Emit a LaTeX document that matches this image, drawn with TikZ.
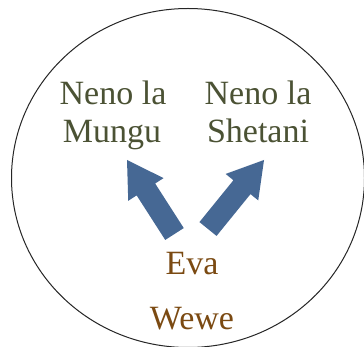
\documentclass[tikz,border=0pt]{standalone}
\usepackage{fontspec}
\setmainfont{Liberation Serif}
\usetikzlibrary{calc}
\definecolor{labelgreen}{HTML}{4B5234}
\definecolor{labelbrown}{HTML}{7B4A12}
\definecolor{arrowblue}{HTML}{466894}
\tikzset{
  biglabel/.style={font=\fontsize{34}{40}\selectfont, inner sep=0pt, anchor=base},
  greenlabel/.style={biglabel, text=labelgreen},
  brownlabel/.style={biglabel, text=labelbrown},
  blockarrow/.style={fill=arrowblue, draw=none},
  outline/.style={draw=black!85, line width=1pt}
}
\newcommand{\myblockarrow}[2]{%
  \fill[blockarrow]
    ($(#1)!11pt!90:(#2)$) --
    ($($(#2)!35pt!(#1)$)!11pt!90:(#2)$) --
    ($($(#2)!35pt!(#1)$)!21pt!90:(#2)$) --
    (#2) --
    ($($(#2)!35pt!(#1)$)!21pt!-90:(#2)$) --
    ($($(#2)!35pt!(#1)$)!11pt!-90:(#2)$) --
    ($(#1)!11pt!-90:(#2)$) -- cycle;}
\begin{document}
\begin{tikzpicture}[x=1pt,y=-1pt]
  \useasboundingbox (0,0) rectangle (364,347);
  \clip (0,0) rectangle (364,347);
  \fill[white] (0,0) rectangle (364,347);
  \draw[outline] (188,178) ellipse [x radius=176.5, y radius=169.5];

  \node[greenlabel] (mungu1) at (113,105) {Neno la};
  \node[greenlabel] (mungu2) at (112,143) {Mungu};
  \node[greenlabel] (shetani1) at (258,105) {Neno la};
  \node[greenlabel] (shetani2) at (258,143) {Shetani};

  \node[brownlabel] (eva) at (192,275) {Eva};
  \node[brownlabel] (wewe) at (192,330) {Wewe};

  \coordinate (lbase) at (174.5,234);
  \coordinate (ltip) at (127,160);
  \coordinate (rbase) at (208,229);
  \coordinate (rtip) at (264,160);
  \myblockarrow{lbase}{ltip}
  \myblockarrow{rbase}{rtip}
\end{tikzpicture}
\end{document}
